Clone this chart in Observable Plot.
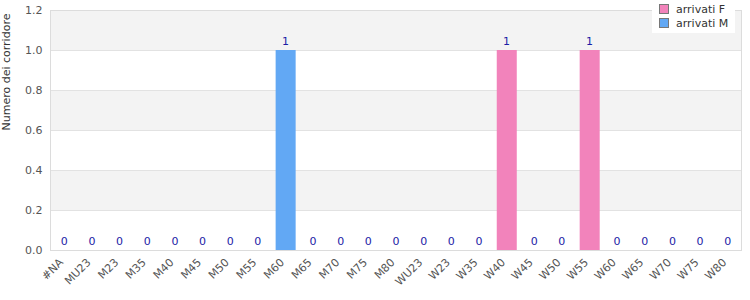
<!DOCTYPE html>
<html>
<head>
<meta charset="utf-8">
<script src="https://cdn.jsdelivr.net/npm/d3@7"></script>
<script src="https://cdn.jsdelivr.net/npm/@observablehq/plot@0.6"></script>
<style>
  html, body { margin: 0; padding: 0; background: #fff; }
  #wrap { position: relative; width: 750px; height: 300px; font-family: "DejaVu Sans", sans-serif; }
  #legend { position: absolute; left: 652px; top: 0px; width: 83px; height: 33px; background: #fff; font-size: 11px; color: #333; }
  .item { position: absolute; left: 7px; height: 13px; line-height: 13px; white-space: nowrap; }
  .sw { display: inline-block; width: 8px; height: 8px; border: 1px solid #777; margin-right: 7px; vertical-align: -1px; }
</style>
</head>
<body>
<div id="wrap"></div>
<script>
const categories = ["#NA","MU23","M23","M35","M40","M45","M50","M55","M60","M65","M70","M75","M80","WU23","W23","W35","W40","W45","W50","W55","W60","W65","W70","W75","W80"];
const arrivatiF = [0,0,0,0,0,0,0,0,0,0,0,0,0,0,0,0,1,0,0,1,0,0,0,0,0];
const arrivatiM = [0,0,0,0,0,0,0,0,1,0,0,0,0,0,0,0,0,0,0,0,0,0,0,0,0];
const seriesNames = ["arrivati F", "arrivati M"];
const seriesColors = ["#f283bb", "#62a8f4"];
const yTicks = [0, 0.2, 0.4, 0.6, 0.8, 1.0, 1.2];
const shadedBands = [[0.2, 0.4], [0.6, 0.8], [1.0, 1.2]];
const yLabel = "Numero dei corridore";

const rows = [];
categories.forEach((c, i) => {
  rows.push({cat: c, series: seriesNames[0], value: arrivatiF[i]});
  rows.push({cat: c, series: seriesNames[1], value: arrivatiM[i]});
});
const totals = categories.map((c, i) => ({cat: c, total: arrivatiF[i] + arrivatiM[i]}));
const bands = shadedBands.map(([a, b]) => ({y1: a, y2: b}));

const chart = Plot.plot({
  width: 750,
  height: 300,
  marginLeft: 50,
  marginRight: 9,
  marginTop: 10,
  marginBottom: 50,
  style: {fontFamily: "DejaVu Sans, sans-serif", fontSize: "11px", background: "#fff"},
  x: {domain: categories, paddingInner: 0.276, paddingOuter: 0.138, round: false, label: null},
  y: {domain: [0, 1.2], label: null},
  color: {domain: seriesNames, range: seriesColors},
  marks: [
    Plot.rectY(bands, {y1: "y1", y2: "y2", fill: "#f3f3f3"}),
    Plot.ruleY(yTicks, {stroke: "#e2e2e2"}),
    Plot.barY(rows, {x: "cat", y: "value", fill: "series", dx: 0.7}),
    Plot.text(totals, {x: "cat", y: "total", text: d => String(d.total), dy: -9, fill: "#1c1ca6", fontSize: 11}),
    Plot.frame({stroke: "#dcdcdc"}),
    Plot.axisY(yTicks, {tickSize: 0, tickPadding: 8, tickFormat: d => d.toFixed(1), fill: "#555", label: null, fontSize: 11}),
    Plot.axisX({tickSize: 0, tickPadding: 10, tickRotate: -45, fill: "#555", label: null, fontSize: 11, dx: -3}),
    Plot.text([yLabel], {frameAnchor: "left", dx: -44, rotate: -90, text: d => d, fill: "#333", fontSize: 11})
  ]
});

const wrap = document.getElementById("wrap");
wrap.appendChild(chart);
const legend = document.createElement("div");
legend.id = "legend";
seriesNames.forEach((name, i) => {
  const it = document.createElement("div");
  it.className = "item";
  it.style.top = (3 + i * 14) + "px";
  const sw = document.createElement("span");
  sw.className = "sw";
  sw.style.background = seriesColors[i];
  it.appendChild(sw);
  it.appendChild(document.createTextNode(name));
  legend.appendChild(it);
});
wrap.appendChild(legend);
</script>
</body>
</html>
